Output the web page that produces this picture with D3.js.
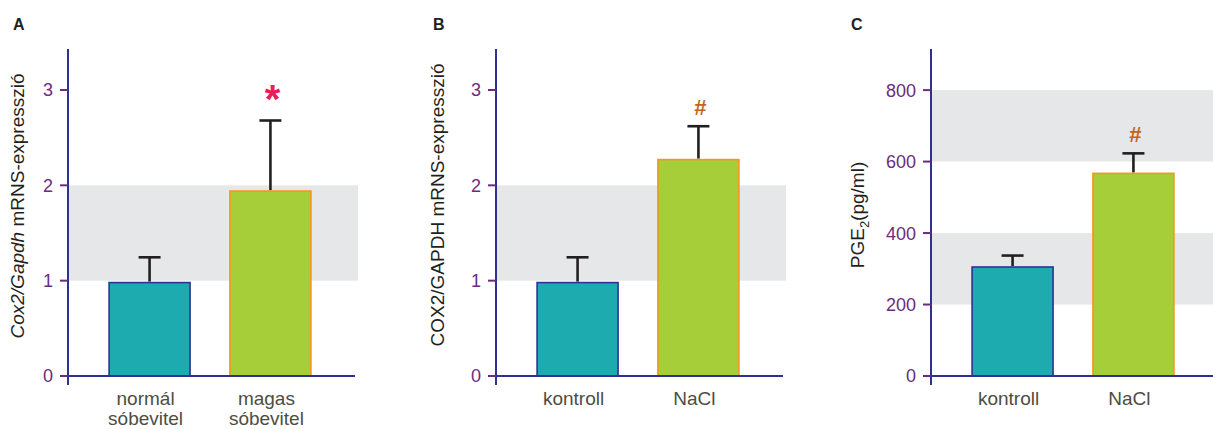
<!DOCTYPE html>
<html>
<head>
<meta charset="utf-8">
<script src="https://cdn.jsdelivr.net/npm/d3@7"></script>
<style>
  body { margin: 0; background: #fff; }
  svg { display: block; font-family: "Liberation Sans", Arial, sans-serif; }
</style>
</head>
<body>
<svg id="chart" width="1213" height="429"></svg>
<script>
// chart data
var categoriesA = [["normál", "sóbevitel"], ["magas", "sóbevitel"]];
var valuesA = [0.98, 1.94];
var errorsA = [0.265, 0.74];
var marksA = ["", "*"];

var categoriesB = [["kontroll"], ["NaCl"]];
var valuesB = [0.98, 2.27];
var errorsB = [0.265, 0.35];
var marksB = ["", "#"];

var categoriesC = [["kontroll"], ["NaCl"]];
var valuesC = [305, 567];
var errorsC = [32, 56];
var marksC = ["", "#"];

var ticksAB = [0, 1, 2, 3];
var ticksC = [0, 200, 400, 600, 800];
var bandsAB = [[1, 2]];
var bandsC = [[200, 400], [600, 800]];

var svg = d3.select("#chart");

var fills = ["#1eabb0", "#a6ce39"];
var strokes = ["#2e3192", "#f7941d"];
var markColors = { "*": "#ec1c5b", "#": "#c1661c" };

function drawPanel(opt) {
  var g = svg.append("g");
  var x0 = opt.axisX;

  var y = d3.scaleLinear().domain([0, opt.yMax]).range([376, 49]);
  var x = d3.scaleBand()
    .domain(d3.range(opt.values.length))
    .range([x0, x0 + 284])
    .paddingInner(0.33)
    .paddingOuter(0.34);

  // grey bands
  g.selectAll(".band")
    .data(opt.bands)
    .enter()
    .append("rect")
    .attr("x", x0)
    .attr("y", function (d) { return y(d[1]); })
    .attr("width", opt.bandEnd - x0)
    .attr("height", function (d) { return y(d[0]) - y(d[1]); })
    .attr("fill", "#e6e7e8");

  // bars
  g.selectAll(".bar")
    .data(opt.values)
    .enter()
    .append("rect")
    .attr("x", function (d, i) { return x(i); })
    .attr("y", function (d) { return y(d); })
    .attr("width", x.bandwidth())
    .attr("height", function (d) { return y(0) - y(d); })
    .attr("fill", function (d, i) { return fills[i]; })
    .attr("stroke", function (d, i) { return strokes[i]; })
    .attr("stroke-width", 1.6);

  // error bars
  opt.values.forEach(function (v, i) {
    var cx = x(i) + x.bandwidth() / 2;
    var top = y(v + opt.errors[i]);
    g.append("line")
      .attr("x1", cx).attr("x2", cx)
      .attr("y1", y(v) - 1).attr("y2", top)
      .attr("stroke", "#231f20").attr("stroke-width", 2.6);
    g.append("line")
      .attr("x1", cx - 11).attr("x2", cx + 11)
      .attr("y1", top).attr("y2", top)
      .attr("stroke", "#231f20").attr("stroke-width", 2.6);
    var m = opt.marks[i];
    if (m) {
      g.append("text")
        .attr("x", cx + 2)
        .attr("y", m == "*" ? top - 8 : top - 11)
        .attr("text-anchor", "middle")
        .attr("fill", markColors[m])
        .attr("font-weight", "bold")
        .attr("font-size", m == "*" ? 40 : 22)
        .text(m);
    }
  });

  // axes
  g.append("line")
    .attr("x1", x0).attr("x2", opt.axisEnd)
    .attr("y1", y(0)).attr("y2", y(0))
    .attr("stroke", "#2e3192").attr("stroke-width", 2);
  g.append("line")
    .attr("x1", x0).attr("x2", x0)
    .attr("y1", 49).attr("y2", 385)
    .attr("stroke", "#2e3192").attr("stroke-width", 2);

  g.selectAll(".tick")
    .data(opt.ticks)
    .enter()
    .append("line")
    .attr("x1", x0 - 8).attr("x2", x0)
    .attr("y1", function (d) { return y(d); })
    .attr("y2", function (d) { return y(d); })
    .attr("stroke", "#6b2c7e").attr("stroke-width", 2);

  g.selectAll(".ticklabel")
    .data(opt.ticks)
    .enter()
    .append("text")
    .attr("x", x0 - 15)
    .attr("y", function (d) { return y(d); })
    .attr("dy", "0.36em")
    .attr("text-anchor", "end")
    .attr("font-size", 18)
    .attr("fill", "#6b2c7e")
    .text(function (d) { return d; });

  // category labels
  opt.categories.forEach(function (lines, i) {
    var t = g.append("text")
      .attr("text-anchor", "middle")
      .attr("font-size", 19)
      .attr("fill", "#4d4d43");
    lines.forEach(function (s, j) {
      t.append("tspan")
        .attr("x", x(i) + x.bandwidth() / 2 - 4)
        .attr("y", 405 + j * 20)
        .text(s);
    });
  });

  // y label
  var yl = g.append("text")
    .attr("transform", "translate(" + opt.labelX + "," + opt.labelY + ") rotate(-90)")
    .attr("text-anchor", "middle")
    .attr("font-size", 19)
    .attr("fill", "#231f20");
  opt.yLabel(yl);

  // panel letter
  g.append("text")
    .attr("x", opt.letterX)
    .attr("y", 30)
    .attr("font-size", 16)
    .attr("font-weight", "bold")
    .attr("fill", "#231f20")
    .text(opt.letter);
}

drawPanel({
  axisX: 68, axisEnd: 355, bandEnd: 358, yMax: 3.43,
  values: valuesA, errors: errorsA, marks: marksA, categories: categoriesA,
  ticks: ticksAB, bands: bandsAB,
  labelX: 24, labelY: 206, letter: "A", letterX: 13,
  yLabel: function (t) {
    t.append("tspan").attr("font-style", "italic").text("Cox2/Gapdh");
    t.append("tspan").text(" mRNS-expresszió");
  }
});

drawPanel({
  axisX: 496, axisEnd: 783, bandEnd: 786, yMax: 3.43,
  values: valuesB, errors: errorsB, marks: marksB, categories: categoriesB,
  ticks: ticksAB, bands: bandsAB,
  labelX: 444, labelY: 205, letter: "B", letterX: 433,
  yLabel: function (t) {
    t.text("COX2/GAPDH mRNS-expresszió");
  }
});

drawPanel({
  axisX: 931, axisEnd: 1213, bandEnd: 1213, yMax: 915,
  values: valuesC, errors: errorsC, marks: marksC, categories: categoriesC,
  ticks: ticksC, bands: bandsC,
  labelX: 864, labelY: 215, letter: "C", letterX: 851,
  yLabel: function (t) {
    t.append("tspan").text("PGE");
    t.append("tspan").attr("font-size", 13).attr("dy", 5).text("2");
    t.append("tspan").attr("dy", -5).text("(pg/ml)");
  }
});
</script>
</body>
</html>
